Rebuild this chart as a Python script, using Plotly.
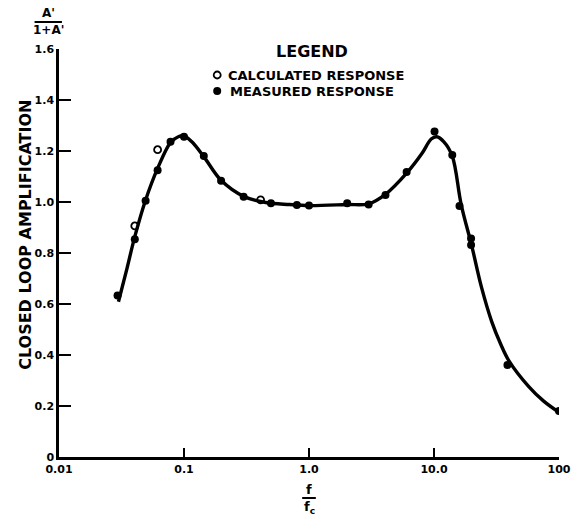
import plotly.graph_objects as go

# ---- data ----
curve_x = [0.0299, 0.035, 0.0404, 0.0493, 0.0615, 0.078, 0.09, 0.1, 0.115, 0.144, 0.198, 0.30, 0.45, 0.7, 1.0,
           2.0, 3.0, 4.09, 6.04, 8.0, 9.5, 10.5, 12.0, 14.0, 16.5, 20.0, 24.0, 29.0, 34.0, 40.0, 57.3, 75.0, 100.0]
curve_y = [0.609, 0.74, 0.864, 1.008, 1.132, 1.233, 1.256, 1.259, 1.237, 1.178, 1.085, 1.022, 0.998, 0.99, 0.986,
           0.99, 0.993, 1.03, 1.113, 1.19, 1.247, 1.256, 1.236, 1.18, 0.99, 0.83, 0.665, 0.53, 0.445, 0.375, 0.276, 0.22, 0.175]

calc_x = [0.0404, 0.0615, 0.41]
calc_y = [0.906, 1.205, 1.008]

meas_x = [0.0294, 0.0404, 0.0493, 0.0615, 0.078, 0.1, 0.144, 0.198, 0.30, 0.496, 0.80, 1.0, 2.02, 3.0,
          4.09, 6.04, 10.1, 14.0, 16.0, 19.8, 19.8, 38.7, 100.0]
meas_y = [0.633, 0.854, 1.005, 1.125, 1.236, 1.256, 1.18, 1.083, 1.021, 0.995, 0.988, 0.986, 0.995, 0.99,
          1.027, 1.118, 1.276, 1.184, 0.984, 0.857, 0.831, 0.361, 0.18]

x_tickvals = [0.01, 0.1, 1.0, 10.0, 100.0]
x_ticktext = ["0.01", "0.1", "1.0", "10.0", "100"]
y_tickvals = [0, 0.2, 0.4, 0.6, 0.8, 1.0, 1.2, 1.4, 1.6]
y_ticktext = ["0", "0.2", "0.4", "0.6", "0.8", "1.0", "1.2", "1.4", "1.6"]

W, H = 583, 516
L, R, T, B = 59, 12, 49, 59
PW, PH = W - L - R, H - T - B

def px(x):
    return (x - L) / PW

def py(y):
    return (H - B - y) / PH

FONT = "DejaVu Sans, Liberation Sans, Arial, sans-serif"

fig = go.Figure()
fig.add_trace(go.Scatter(x=curve_x, y=curve_y, mode="lines",
                         line=dict(color="black", width=3.4, shape="spline", smoothing=1.0),
                         showlegend=False, hoverinfo="skip"))
fig.add_trace(go.Scatter(x=meas_x, y=meas_y, mode="markers",
                         marker=dict(symbol="circle", size=8, color="black"),
                         showlegend=False))
fig.add_trace(go.Scatter(x=calc_x, y=calc_y, mode="markers",
                         marker=dict(symbol="circle-open", size=7, color="black", line=dict(width=1.8)),
                         showlegend=False))

fig.update_xaxes(type="log", range=[-2, 2], tickvals=x_tickvals, ticktext=x_ticktext,
                 ticks="inside", ticklen=9, tickwidth=2, tickcolor="black",
                 showline=True, linecolor="black", linewidth=2.5, showgrid=False, zeroline=False,
                 tickfont=dict(family=FONT, size=11, color="black", weight="bold"))
fig.update_yaxes(range=[0, 1.6], tickvals=y_tickvals, ticktext=y_ticktext,
                 ticks="inside", ticklen=12, tickwidth=2, tickcolor="black",
                 showline=True, linecolor="black", linewidth=2.5, showgrid=False, zeroline=False,
                 tickfont=dict(family=FONT, size=11, color="black", weight="bold"))

ann = []
def txt(x, y, s, size=13, xanchor="center", angle=0):
    ann.append(dict(x=px(x), y=py(y), xref="paper", yref="paper", text=s, showarrow=False,
                    xanchor=xanchor, yanchor="middle", textangle=angle, borderpad=0,
                    font=dict(family=FONT, size=size, color="black")))

# legend block
txt(318, 52, "<b>LEGEND</b>", size=16)
txt(231, 75, "<b>CALCULATED RESPONSE</b>", size=13, xanchor="left")
txt(233, 92, "<b>MEASURED RESPONSE</b>", size=13, xanchor="left")
# y-axis title
txt(24, 235, "<b>CLOSED LOOP AMPLIFICATION</b>", size=16, angle=-90)
# top-left fraction A'/(1+A')
txt(48, 13, "<b>A'</b>", size=12)
txt(48, 30, "<b>1+A'</b>", size=12)
# x-axis fraction f/fc
txt(315, 489, "<b>f</b>", size=13)
txt(315, 507, "<b>f<sub>c</sub></b>", size=13)
fig.update_layout(annotations=ann)

# legend markers
fig.add_trace(go.Scatter(x=[px(221)], y=[py(75)], xaxis="x2", yaxis="y2", mode="markers",
                         marker=dict(symbol="circle-open", size=7, color="black", line=dict(width=1.8)),
                         showlegend=False))
fig.add_trace(go.Scatter(x=[px(221)], y=[py(91)], xaxis="x2", yaxis="y2", mode="markers",
                         marker=dict(symbol="circle", size=8, color="black"),
                         showlegend=False))
fig.update_layout(xaxis2=dict(overlaying="x", range=[0, 1], visible=False, domain=[0, 1]),
                  yaxis2=dict(overlaying="y", range=[0, 1], visible=False, domain=[0, 1]))

# fraction bars
fig.add_shape(type="line", xref="paper", yref="paper", x0=px(34), x1=px(62), y0=py(22), y1=py(22),
              line=dict(color="black", width=2))
fig.add_shape(type="line", xref="paper", yref="paper", x0=px(308), x1=px(322), y0=py(498), y1=py(498),
              line=dict(color="black", width=2))

fig.update_layout(width=W, height=H, margin=dict(l=L, r=R, t=T, b=B),
                  paper_bgcolor="white", plot_bgcolor="white", showlegend=False)

fig.write_html("out.html")
